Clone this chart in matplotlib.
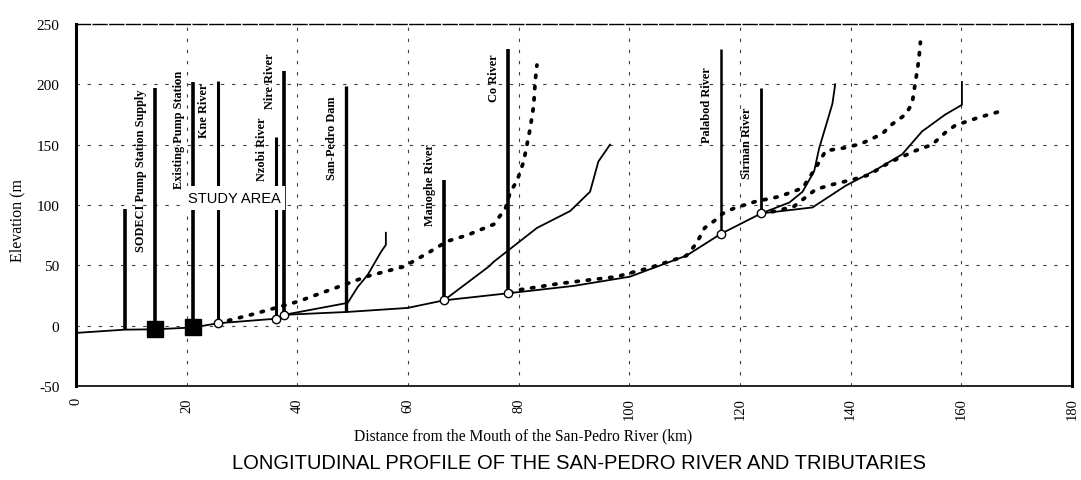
import matplotlib
matplotlib.use('Agg')

import matplotlib.pyplot as plt

plt.rcParams["axes.unicode_minus"] = False


# DATA (distance in km, elevation in m)
MAIN_KM   = [0, 8.8, 14.2, 21.2, 25.6, 36.2, 37.6, 49.1, 59.9, 66.5, 78.4,
             90, 100.1, 110.3, 116.5, 123.8, 133.1, 139.1, 144.5, 149.3,
             152.9, 157.1, 160.1, 160.1]
MAIN_ELEV = [-6, -3.3, -3, -1.5, 2, 5.8, 9, 11.4, 14.7, 21, 27,
             33, 40.6, 58, 76, 93, 98, 116, 129, 142,
             161, 175, 183, 202]

# solid tributaries
TRIB_A_KM   = [37.6, 49.1, 50.9, 52.7, 55.1, 56.0, 56.0]
TRIB_A_ELEV = [9, 18.9, 32, 42, 61, 67, 77]
TRIB_B_KM   = [66.5, 74.6, 75.5, 83.3, 89.3, 92.9, 94.4, 96.5]
TRIB_B_ELEV = [21, 49, 53, 81, 95, 111, 136, 150]
TRIB_C_KM   = [123.8, 128.9, 131.3, 133.4, 134.3, 135.8, 136.7, 137.2]
TRIB_C_ELEV = [93, 102, 111, 128, 147, 170, 184, 200]

# dotted tributaries
TRIB_D_KM   = [25.6, 32.4, 40.1, 46.7, 52.7, 59.3, 63.5, 67.1, 70.7, 75.5,
               77.6, 78.5, 79.7, 80.9, 81.5, 82.1, 82.7, 83.0, 83.3]
TRIB_D_ELEV = [2, 10, 20, 31, 41, 49, 60, 70, 75, 84,
               97, 111, 120, 136, 150, 164, 182, 203, 216]
TRIB_E_KM   = [78.4, 79.7, 87.5, 97.7, 103.7, 110.3, 112.1, 113.6, 115.4,
               116.9, 119.0, 122.9, 127.1, 131.3, 133.7, 135.5, 139.1, 142.0,
               145.7, 147.5, 149.9, 151.1, 151.7, 152.3, 152.6]
TRIB_E_ELEV = [27, 29.4, 35, 40.6, 48, 58, 68, 81, 87,
               93, 97.5, 103, 107, 114, 131, 145, 147.5, 151,
               159, 167, 175, 184, 202, 220, 235]
TRIB_F_KM   = [123.8, 126.5, 129.8, 133.7, 136.7, 140.3, 143.3, 146.9, 151.7,
               154.7, 157.1, 158.9, 163.1, 167.3]
TRIB_F_ELEV = [93, 95, 99, 113, 117, 121, 125, 135, 145,
               150, 160, 166, 172.5, 178]

# site markers: name, distance, base elevation, top elevation
SITE_NAMES = ["", "SODECI Pump Station Supply", "Existing Pump Station",
              "Kne River", "Nzobi River", "Nire River", "San-Pedro Dam",
              "Manoghe River", "Co River", "Palabod River", "Sirman River"]
SITE_KM    = [8.8, 14.2, 21.2, 25.6, 36.2, 37.6, 48.8, 66.5, 78.0, 116.5, 123.8]
SITE_BASE  = [-3, -3, -1.5, 2, 5.8, 9, 11.4, 21, 27, 76, 93]
SITE_TOP   = [97, 197, 202, 203, 156, 211, 199, 121, 229, 229, 197]

PUMP_KM    = [14.2, 21.2]
PUMP_ELEV  = [-3, -1.5]
JUNC_KM    = [25.6, 36.2, 37.6, 66.5, 78.0, 116.5, 123.8]
JUNC_ELEV  = [2, 5.8, 9, 21, 27, 76, 93]

XTICKS = list(range(0, 181, 20))
YTICKS = list(range(-50, 251, 50))

# label layout (centre elevation of each rotated label, line width of each bar)
LABEL_ELEV = [None, 129, 163, 179, 147, 203, 156, 117, 206, 184, 152]
BAR_WIDTH  = [2.6, 2.6, 2.6, 2.2, 2.2, 2.6, 2.4, 2.6, 2.6, 1.8, 2.0]

SERIF = ["Liberation Serif", "DejaVu Serif"]
DOTS = (0, (0.6, 2.4))

fig = plt.figure(figsize=(10.81, 4.81), dpi=100)
ax = fig.add_axes([0.0703, 0.1954, 0.9214, 0.7526])

ax.set_xlim(0, 180)
ax.set_ylim(-50, 250)
ax.set_xticks(XTICKS)
ax.set_yticks(YTICKS)
ax.grid(True, color="0.25", linestyle=(0, (3, 7)), linewidth=0.8)
ax.set_axisbelow(True)

# main river and tributaries
ax.plot(MAIN_KM, MAIN_ELEV, color="black", linewidth=1.3, zorder=3)
for xs, ys in [(TRIB_A_KM, TRIB_A_ELEV), (TRIB_B_KM, TRIB_B_ELEV),
               (TRIB_C_KM, TRIB_C_ELEV)]:
    ax.plot(xs, ys, color="black", linewidth=1.3, zorder=3)
for xs, ys in [(TRIB_D_KM, TRIB_D_ELEV), (TRIB_E_KM, TRIB_E_ELEV),
               (TRIB_F_KM, TRIB_F_ELEV)]:
    ax.plot(xs, ys, color="black", linewidth=2.7, linestyle=DOTS,
            dash_capstyle="round", zorder=3)

# vertical site bars with their names
for name, km, base, top, ly, lw in zip(SITE_NAMES, SITE_KM, SITE_BASE,
                                       SITE_TOP, LABEL_ELEV, BAR_WIDTH):
    ax.vlines(km, base, top, color="black", linewidth=lw, zorder=3)
    if name:
        ax.annotate(name, xy=(km, ly), xytext=(-14, 0),
                    textcoords="offset pixels", rotation=90,
                    ha="center", va="center", fontsize=8.8,
                    fontweight="bold", family=SERIF, zorder=5)

ax.plot(PUMP_KM, PUMP_ELEV, linestyle="none", marker="s", markersize=11,
        color="black", zorder=4)
ax.plot(JUNC_KM, JUNC_ELEV, linestyle="none", marker="o", markersize=6,
        markerfacecolor="white", markeredgecolor="black",
        markeredgewidth=1.0, zorder=4)

ax.text(28.6, 106, "STUDY AREA", fontsize=10.5, ha="center", va="center",
        family=["Liberation Sans"], zorder=6,
        bbox=dict(facecolor="white", edgecolor="none", pad=3.5))

# frame
ax.spines["left"].set_linewidth(2.2)
ax.spines["right"].set_linewidth(2.2)
ax.spines["bottom"].set_linewidth(1.2)
ax.spines["top"].set_linewidth(1.0)
ax.spines["top"].set_linestyle((0, (10, 2)))

ax.tick_params(axis="x", length=0, pad=8)
ax.tick_params(axis="y", length=0, pad=12)
for lab in ax.get_xticklabels():
    lab.set_rotation(90)
    lab.set_family(SERIF)
    lab.set_fontsize(10.5)
for lab in ax.get_yticklabels():
    lab.set_family(SERIF)
    lab.set_fontsize(11)

ax.set_ylabel("Elevation (m", family=SERIF, fontsize=11.5)
ax.yaxis.set_label_coords(-0.051, 0.461)
fig.text(0.484, 0.092, "Distance from the Mouth of the San-Pedro River (km)",
         ha="center", va="center", family=SERIF, fontsize=11.2)
fig.text(0.536, 0.037,
         "LONGITUDINAL PROFILE OF THE SAN-PEDRO RIVER AND TRIBUTARIES",
         ha="center", va="center", family=["Liberation Sans"], fontsize=14.5)

plt.savefig("out.png", dpi=100)
plt.close()
